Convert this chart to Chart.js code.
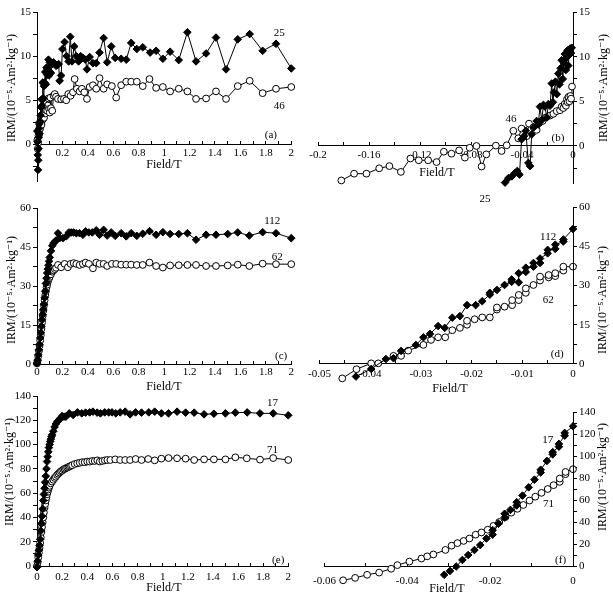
<!DOCTYPE html>
<html>
<head>
<meta charset="utf-8">
<script src="https://cdn.jsdelivr.net/npm/chart.js@4.4.0/dist/chart.umd.min.js"></script>
<style>
  body { margin: 0; background: #fff; }
  #wrap { position: relative; width: 613px; height: 595px; }
  #wrap canvas { position: absolute; }
</style>
</head>
<body>
<div id="wrap">
  <canvas id="pa" width="300" height="190" style="left:0;top:0"></canvas>
  <canvas id="pb" width="313" height="205" style="left:300px;top:0"></canvas>
  <canvas id="pc" width="300" height="210" style="left:0;top:190px"></canvas>
  <canvas id="pd" width="313" height="210" style="left:300px;top:190px"></canvas>
  <canvas id="pe" width="300" height="215" style="left:0;top:380px"></canvas>
  <canvas id="pf" width="313" height="215" style="left:300px;top:380px"></canvas>
</div>
<script>
// (a) IRM acquisition, samples 25 and 46
const a25X = [0.002,0.004,0.006,0.008,0.010,0.012,0.014,0.016,0.018,0.020,0.024,0.028,0.032,0.036,0.040,0.045,0.050,0.055,0.060,0.065,0.070,0.075,0.080,0.085,0.090,0.095,0.100,0.110,0.120,0.130,0.140,0.150,0.160,0.170,0.178,0.190,0.200,0.217,0.233,0.249,0.262,0.275,0.293,0.309,0.327,0.343,0.361,0.380,0.393,0.414,0.440,0.466,0.492,0.524,0.552,0.584,0.615,0.662,0.702,0.741,0.785,0.832,0.890,0.937,0.990,1.047,1.115,1.183,1.251,1.330,1.408,1.487,1.579,1.673,1.775,1.880,2.000];
const a25Y = [1.5,0.3,-1.2,-2.9,-1.8,-0.5,0.8,1.8,2.3,1.2,2.6,3.3,4.2,5.1,4.4,7.0,5.2,6.6,7.0,8.2,6.8,8.7,7.9,8.5,9.6,7.8,9.3,8.1,9.1,9.3,9.1,8.9,9.0,9.1,7.2,7.8,10.8,11.6,10.0,9.4,12.2,9.4,11.1,10.0,9.4,10.0,9.8,9.6,8.5,9.9,9.2,9.2,10.4,12.05,9.3,11.1,9.8,9.7,9.6,11.5,10.8,11.0,10.4,10.6,9.7,10.5,9.55,12.7,9.4,10.3,12.1,8.5,11.9,12.5,10.6,11.4,8.6];
const a46X = [0.003,0.006,0.009,0.012,0.015,0.018,0.021,0.025,0.030,0.035,0.040,0.045,0.050,0.055,0.060,0.065,0.070,0.075,0.080,0.085,0.090,0.095,0.100,0.105,0.110,0.120,0.130,0.140,0.150,0.165,0.190,0.212,0.230,0.246,0.264,0.283,0.296,0.314,0.335,0.353,0.372,0.393,0.414,0.440,0.466,0.492,0.524,0.552,0.589,0.623,0.662,0.702,0.741,0.785,0.832,0.885,0.937,0.990,1.047,1.115,1.183,1.251,1.330,1.408,1.487,1.579,1.673,1.775,1.880,2.000];
const a46Y = [0.5,-0.5,0.2,1.0,1.5,1.2,2.0,1.8,2.5,2.2,3.0,2.8,3.4,3.0,4.1,3.5,3.9,4.6,3.8,4.4,5.2,4.0,3.6,5.3,4.1,3.8,5.5,5.7,5.4,5.15,5.1,5.15,5.0,5.7,5.5,5.9,7.4,6.3,6.0,6.3,5.9,5.15,6.5,6.7,6.3,7.5,6.3,6.8,6.6,5.3,6.7,7.1,7.1,7.1,6.6,7.4,6.4,6.5,6.0,6.3,6.0,5.15,5.2,6.0,5.15,6.6,7.2,5.8,6.3,6.5];

// (b) back-field demagnetisation, samples 25 and 46
const b25X = [-0.0533,-0.0507,-0.048,-0.0455,-0.0437,-0.042,-0.0403,-0.0384,-0.037,-0.035,-0.0337,-0.0324,-0.0306,-0.0285,-0.0272,-0.0259,-0.0245,-0.0232,-0.022,-0.0205,-0.0193,-0.018,-0.0167,-0.0158,-0.0149,-0.0138,-0.0127,-0.0115,-0.0106,-0.0097,-0.0089,-0.008,-0.0071,-0.0063,-0.0056,-0.005,-0.0043,-0.0037,-0.003,-0.0023,-0.0016,-0.001];
const b25Y = [-4.1,-3.6,-3.4,-3.0,-2.8,-3.2,0.75,1.1,1.7,-1.9,-2.25,1.3,2.1,2.8,2.4,4.4,2.9,4.6,4.4,3.2,4.7,4.5,7.0,4.9,6.0,7.2,5.8,8.1,6.9,8.7,9.6,7.5,9.3,10.3,8.5,9.9,10.7,9.0,10.2,10.9,10.4,11.0];
const b46X = [-0.1817,-0.1717,-0.162,-0.152,-0.144,-0.135,-0.1275,-0.121,-0.1136,-0.107,-0.1013,-0.0953,-0.0893,-0.0848,-0.081,-0.0757,-0.0717,-0.068,-0.0605,-0.056,-0.052,-0.0468,-0.0429,-0.0403,-0.0363,-0.0345,-0.031,-0.0285,-0.0264,-0.0238,-0.0212,-0.018,-0.0154,-0.0128,-0.0102,-0.0089,-0.0076,-0.0065,-0.0055,-0.0048,-0.0042,-0.0035,-0.0028,-0.0021,-0.0015,-0.0008];
const b46Y = [-3.86,-3.1,-3.1,-2.5,-2.25,-2.9,-1.4,-1.6,-1.6,-1.8,-0.64,-0.86,-0.49,-1.3,-0.2,0,-2.3,-0.94,0.04,-0.56,0.08,1.7,0.86,1.95,1.1,2.5,2.1,1.8,2.6,2.8,3.2,3.4,3.6,3.9,4.0,4.4,4.25,4.7,4.5,5.2,4.9,5.5,5.0,5.6,5.3,6.65];

// (c) IRM acquisition, samples 112 and 62
const c112X = [0,0.005,0.01,0.015,0.02,0.025,0.03,0.035,0.04,0.045,0.05,0.055,0.06,0.065,0.07,0.075,0.08,0.085,0.09,0.095,0.1,0.11,0.12,0.13,0.14,0.15,0.165,0.178,0.204,0.23,0.251,0.27,0.288,0.309,0.335,0.361,0.382,0.408,0.435,0.466,0.492,0.524,0.552,0.584,0.615,0.662,0.702,0.741,0.785,0.832,0.885,0.937,0.99,1.047,1.115,1.183,1.251,1.33,1.408,1.5,1.579,1.67,1.775,1.88,2.0];
const c112Y = [0.3,1.5,3.5,5.5,7.5,10,12,14.5,17,19,21,23,25.5,28,31,33,35,36.5,38,39.5,41,43.5,45.5,46.5,47,47.5,50.3,48.4,48.4,49.1,50.6,50.6,50.6,50.3,50.3,49.7,51.0,50.6,50.6,51.4,49.7,51.6,49.4,50.6,49.3,50.3,49.1,50.3,49.3,50.1,51.1,49.7,50.7,50.0,50.0,50.3,47.8,49.7,49.7,50.0,50.6,49.4,50.7,50.3,48.4];
const c62X = [0,0.005,0.01,0.015,0.02,0.025,0.03,0.035,0.04,0.045,0.05,0.055,0.06,0.065,0.07,0.075,0.08,0.085,0.09,0.095,0.1,0.11,0.12,0.13,0.14,0.15,0.165,0.19,0.217,0.243,0.264,0.288,0.309,0.335,0.361,0.382,0.408,0.44,0.466,0.492,0.524,0.552,0.589,0.623,0.662,0.702,0.741,0.785,0.832,0.885,0.937,0.99,1.047,1.115,1.183,1.251,1.33,1.408,1.5,1.579,1.67,1.775,1.88,2.0];
const c62Y = [0.2,1.2,3,5,7,9,11,13.5,16,18.5,20.5,22.5,24.5,26.5,28,29.5,30.5,31.5,32.5,33,33.5,34.5,35.5,36,36.5,37,38.1,37.2,38.5,37.2,38.5,38.8,38.5,38.1,38.5,39.0,38.5,36.8,39.0,38.5,38.5,37.7,38.5,38.5,38.2,38.2,38.2,38.1,38.1,39.0,37.7,37.1,37.9,38.0,38.1,38.1,37.7,37.7,37.9,38.2,37.7,38.6,38.4,38.4];

// (d) back-field demagnetisation, samples 112 and 62
const d112X = [-0.0428,-0.0398,-0.0369,-0.0354,-0.0339,-0.031,-0.0295,-0.0282,-0.0266,-0.0253,-0.0238,-0.0223,-0.0209,-0.0192,-0.0179,-0.0164,-0.0164,-0.015,-0.0135,-0.0121,-0.0121,-0.0107,-0.0107,-0.0093,-0.0093,-0.0078,-0.0078,-0.0065,-0.0065,-0.005,-0.005,-0.0035,-0.0035,-0.0019,-0.0019,0];
const d112Y = [-4.8,-1.9,1.9,2.2,5.0,7.3,10.2,11.5,14.5,13.8,17.7,18.3,22.5,22.5,24.0,26.5,27.2,28.3,30.2,31.4,32.3,31.2,34.7,35.2,36.8,37.2,38.6,38.6,40.3,42.3,43.6,44.0,45.6,46.8,47.6,51.6];
const d62X = [-0.0455,-0.0427,-0.0398,-0.0384,-0.0354,-0.0339,-0.0325,-0.0295,-0.028,-0.0266,-0.0252,-0.0238,-0.0223,-0.0209,-0.0209,-0.0194,-0.0179,-0.0164,-0.015,-0.015,-0.0135,-0.012,-0.012,-0.0107,-0.0107,-0.0093,-0.0093,-0.0078,-0.0065,-0.0065,-0.0048,-0.0048,-0.0035,-0.0035,-0.0019,-0.0019,0];
const d62Y = [-5.5,-2.0,0.25,0.25,3.1,3.1,5.1,7.3,9.2,10.2,10.2,12.9,13.8,15.0,16.5,17.1,17.8,17.8,20.8,21.6,21.9,22.5,24.4,24.4,26.4,27.2,28.9,30.2,31.9,33.4,33.1,34.0,33.6,34.7,35.7,37.2,37.2];

// (e) IRM acquisition, samples 17 and 71
const e17X = [0,0.005,0.01,0.015,0.02,0.025,0.03,0.035,0.04,0.045,0.05,0.055,0.06,0.065,0.07,0.075,0.08,0.085,0.09,0.095,0.1,0.105,0.11,0.115,0.12,0.13,0.14,0.15,0.16,0.17,0.18,0.19,0.2,0.215,0.23,0.257,0.288,0.322,0.356,0.387,0.419,0.445,0.479,0.505,0.539,0.571,0.597,0.628,0.662,0.702,0.741,0.785,0.832,0.89,0.937,0.99,1.047,1.115,1.183,1.251,1.33,1.408,1.5,1.579,1.673,1.775,1.88,2.0];
const e17Y = [-1,4,9,13,17,22,29,35,41,47,54,59,64,69,74,80,86,90,94,97.5,100,102.5,104.5,106.5,108,111,114.5,117,118.5,119.5,121,122,123.5,123,123,125.7,124.3,126.5,125.7,126.3,126.5,127.1,126.3,125.7,126.5,126.5,126.5,125.7,126.5,127.1,124.9,126.5,126.3,126.5,127.1,125.7,125.7,127.1,126.3,126.3,124.9,125.4,125.7,126.3,126.5,125.7,125.7,124.1];
const e71X = [0,0.005,0.01,0.015,0.02,0.025,0.03,0.035,0.04,0.045,0.05,0.055,0.06,0.065,0.07,0.075,0.08,0.085,0.09,0.095,0.1,0.11,0.12,0.13,0.14,0.15,0.16,0.17,0.18,0.19,0.2,0.21,0.22,0.23,0.24,0.25,0.26,0.27,0.28,0.3,0.32,0.34,0.36,0.38,0.4,0.42,0.44,0.46,0.48,0.5,0.52,0.54,0.56,0.584,0.623,0.662,0.702,0.741,0.785,0.832,0.885,0.937,0.99,1.047,1.115,1.183,1.251,1.33,1.408,1.5,1.579,1.67,1.775,1.88,2.0];
const e71Y = [0,3,7,11,15,19,23.5,28,32,36,40,44,48,51,54,56.5,59,61,63,64.5,66,68,69.5,71,72.5,73.5,75,76,77,78,78.5,79.5,80,80.5,81,81.5,82,82.5,83,84,84.5,85,85.5,85.5,86,86,86.5,86.5,87,86,86.5,87,87.3,87.3,87.8,87.3,87.3,87.3,88.1,87.3,88.1,87.0,88.4,88.9,88.7,88.4,87.3,87.8,87.8,87.8,89.5,88.7,87.6,88.9,87.3];

// (f) back-field demagnetisation, samples 17 and 71
const f17X = [-0.0311,-0.0297,-0.0282,-0.0267,-0.0253,-0.0238,-0.0224,-0.0209,-0.0194,-0.0194,-0.018,-0.0165,-0.0165,-0.0151,-0.0136,-0.0136,-0.0122,-0.0107,-0.0093,-0.0078,-0.0078,-0.0063,-0.0049,-0.0049,-0.0034,-0.0034,-0.002,-0.002,0];
const f17Y = [-8.0,-4.5,-0.5,5.5,10.0,14.5,19.0,25.0,28.5,32.5,38.5,44.0,47.5,51.0,55.0,58.0,64.0,71.5,78.5,85.0,87.5,95.5,101.5,103.5,108.5,111.0,118.5,121.0,127.0];
const f71X = [-0.0555,-0.0526,-0.0497,-0.0468,-0.0439,-0.0424,-0.0395,-0.0366,-0.0352,-0.0337,-0.0308,-0.0293,-0.0279,-0.0264,-0.025,-0.0235,-0.0221,-0.0206,-0.0192,-0.0178,-0.0163,-0.0149,-0.0134,-0.012,-0.0105,-0.0091,-0.0076,-0.0061,-0.0047,-0.0032,-0.0032,-0.0018,-0.0018,0];
const f71Y = [-13.0,-10.8,-8.0,-6.0,-2.5,0.8,4.0,6.8,8.8,10.5,14.6,18.5,20.8,22.8,25.0,28.5,30.5,33.0,36.5,40.0,44.5,48.5,52.0,55.5,59.5,63.0,66.5,70.0,73.5,76.5,79.5,83.5,85.5,88.0];

// tick values (labelled / unlabelled)
const fwdTicksX = [0,0.2,0.4,0.6,0.8,1,1.2,1.4,1.6,1.8,2];
const fwdTicksXA = [0.2,0.4,0.6,0.8,1,1.2,1.4,1.6,1.8,2];
const fwdMinorX = [0.1,0.3,0.5,0.7,0.9,1.1,1.3,1.5,1.7,1.9];
const bTicksX = [-0.2,-0.16,-0.12,-0.08,-0.04,0];
const bMinorX = [-0.18,-0.14,-0.1,-0.06,-0.02];
const dTicksX = [-0.05,-0.04,-0.03,-0.02,-0.01,0];
const dMinorX = [-0.045,-0.035,-0.025,-0.015,-0.005];
const fTicksX = [-0.06,-0.04,-0.02,0];
const fMinorX = [-0.05,-0.03,-0.01];
const abTicksY = [0,5,10,15];
const abMinorY = [-2.5,2.5,7.5,12.5];
const cdTicksY = [0,15,30,45,60];
const cdMinorY = [7.5,22.5,37.5,52.5];
const efTicksY = [0,20,40,60,80,100,120,140];
const efMinorY = [10,30,50,70,90,110,130];

const yTitle = 'IRM/(10\u207B\u2075\u00B7Am\u00B2\u00B7kg\u207B\u00B9)';
const serif = '"Liberation Serif", "DejaVu Serif", serif';

Chart.defaults.font.family = serif;
Chart.defaults.color = '#000';

// labels, titles and panel letters for each canvas; axisFrom0: y axis line starts at 0
const panelText = {
  pa: { notes: [['25', 1.906, 12.65], ['46', 1.906, 4.37], ['(a)', 1.84, 1.1]], xt: [164, 165], yt: [12, 88] },
  pb: { notes: [['46', -0.0486, 3.0], ['25', -0.069, -5.9], ['(b)', -0.0118, 0.9]], xt: [137, 173], yt: [304, 88] },
  pc: { notes: [['112', 1.85, 55], ['62', 1.89, 41.2], ['(c)', 1.92, 3]], xt: [164, 197], yt: [12, 100] },
  pd: { notes: [['112', -0.0049, 48.5], ['62', -0.0049, 24.5], ['(d)', -0.0031, 3.8]], xt: [150, 199], yt: [303, 110], axisFrom0: true },
  pe: { notes: [['17', 1.875, 134], ['71', 1.875, 95.5], ['(e)', 1.92, 5]], xt: [164, 208], yt: [10, 92] },
  pf: { notes: [['17', -0.0061, 114.5], ['71', -0.0059, 56.4], ['(f)', -0.003, 5.5]], xt: [147, 209], yt: [303, 97], axisFrom0: true }
};

const textPlugin = {
  id: 'textPlugin',
  afterDraw(chart) {
    const t = panelText[chart.canvas.id];
    const {ctx, scales} = chart;
    ctx.save();
    if (t.axisFrom0) {
      const ax = Math.round(scales.y.left) + 0.5;
      ctx.strokeStyle = '#000';
      ctx.lineWidth = 1;
      ctx.beginPath();
      ctx.moveTo(ax, scales.y.getPixelForValue(0));
      ctx.lineTo(ax, scales.y.getPixelForValue(scales.y.max));
      ctx.stroke();
    }
    ctx.fillStyle = '#000';
    ctx.textAlign = 'center';
    ctx.textBaseline = 'middle';
    ctx.font = '11px ' + serif;
    t.notes.forEach(([s, xv, yv]) => {
      ctx.fillText(s, scales.x.getPixelForValue(xv), scales.y.getPixelForValue(yv));
    });
    ctx.font = '12px ' + serif;
    ctx.fillText('Field/T', t.xt[0], t.xt[1]);
    ctx.translate(t.yt[0], t.yt[1]);
    ctx.rotate(-Math.PI / 2);
    ctx.fillText(yTitle, 0, 0);
    ctx.restore();
  }
};

const isMajor = (v, list) => list.some(m => Math.abs(m - v) < 1e-9);
const setTicks = (major, minor) => (scale) => {
  scale.ticks = major.concat(minor).sort((a, b) => a - b).map(v => ({ value: v }));
};

const xAxis = (min, max, major, minor, pad) => ({
  type: 'linear', min, max, position: { y: 0 },
  border: { color: '#000', width: 1 },
  grid: { drawOnChartArea: false, color: '#000', tickLength: -4 },
  ticks: { autoSkip: false, maxRotation: 0, padding: pad, font: { size: 11 },
           callback: v => isMajor(v, major) ? String(v) : '' },
  afterBuildTicks: setTicks(major, minor)
});

const yAxis = (min, max, major, minor, side, w, showBorder = true) => ({
  type: 'linear', min, max, position: side,
  border: { display: showBorder, color: '#000', width: 1 },
  grid: { drawOnChartArea: false, color: '#000', tickLength: 4 },
  ticks: { autoSkip: false, padding: 2, font: { size: 11 },
           callback: v => isMajor(v, major) ? String(v) : '' },
  afterBuildTicks: setTicks(major, minor),
  afterFit: s => { s.width = w; }
});

const filled = (xs, ys) => ({
  data: xs.map((x, i) => ({ x, y: ys[i] })),
  borderColor: '#000', borderWidth: 1, tension: 0, clip: false,
  pointStyle: 'rectRot', pointRadius: 3.8,
  pointBackgroundColor: '#000', pointBorderColor: '#000', pointBorderWidth: 1
});
const hollow = (xs, ys) => ({
  data: xs.map((x, i) => ({ x, y: ys[i] })),
  borderColor: '#000', borderWidth: 1, tension: 0, clip: false,
  pointStyle: 'circle', pointRadius: 3.4,
  pointBackgroundColor: '#fff', pointBorderColor: '#000', pointBorderWidth: 1
});

const makePanel = (id, datasets, x, y, padding) => new Chart(document.getElementById(id), {
  type: 'line',
  data: { datasets },
  options: {
    responsive: false, animation: false, devicePixelRatio: 1,
    layout: { padding },
    plugins: { legend: { display: false }, tooltip: { enabled: false } },
    scales: { x, y }
  },
  plugins: [textPlugin]
});

makePanel('pa', [filled(a25X, a25Y), hollow(a46X, a46Y)],
  xAxis(0, 2, fwdTicksXA, fwdMinorX, 6),
  yAxis(-4.2, 15, abTicksY, abMinorY, 'left', 37),
  { top: 12, right: 8, bottom: 6.5, left: 0 });

makePanel('pb', [filled(b25X, b25Y), hollow(b46X, b46Y)],
  xAxis(-0.2, 0, bTicksX, bMinorX, 7),
  yAxis(-4.2, 15, abTicksY, abMinorY, 'right', 40),
  { top: 12, right: 0, bottom: 21.5, left: 18 });

makePanel('pc', [filled(c112X, c112Y), hollow(c62X, c62Y)],
  xAxis(0, 2, fwdTicksX, fwdMinorX, 6),
  yAxis(0, 60, cdTicksY, cdMinorY, 'left', 37),
  { top: 18, right: 8, bottom: 36, left: 0 });

makePanel('pd', [filled(d112X, d112Y), hollow(d62X, d62Y)],
  xAxis(-0.05, 0, dTicksX, dMinorX, 8),
  yAxis(-6.5, 60, cdTicksY, cdMinorY, 'right', 40, false),
  { top: 17, right: 0, bottom: 19, left: 18 });

makePanel('pe', [filled(e17X, e17Y), hollow(e71X, e71Y)],
  xAxis(0, 2, fwdTicksX, fwdMinorX, 9),
  yAxis(0, 140, efTicksY, efMinorY, 'left', 37),
  { top: 16, right: 8, bottom: 29, left: 0 });

makePanel('pf', [filled(f17X, f17Y), hollow(f71X, f71Y)],
  xAxis(-0.06, 0, fTicksX, fMinorX, 13),
  yAxis(-15, 140, efTicksY, efMinorY, 'right', 40, false),
  { top: 32, right: 0, bottom: 12.5, left: 18 });
</script>
</body>
</html>
